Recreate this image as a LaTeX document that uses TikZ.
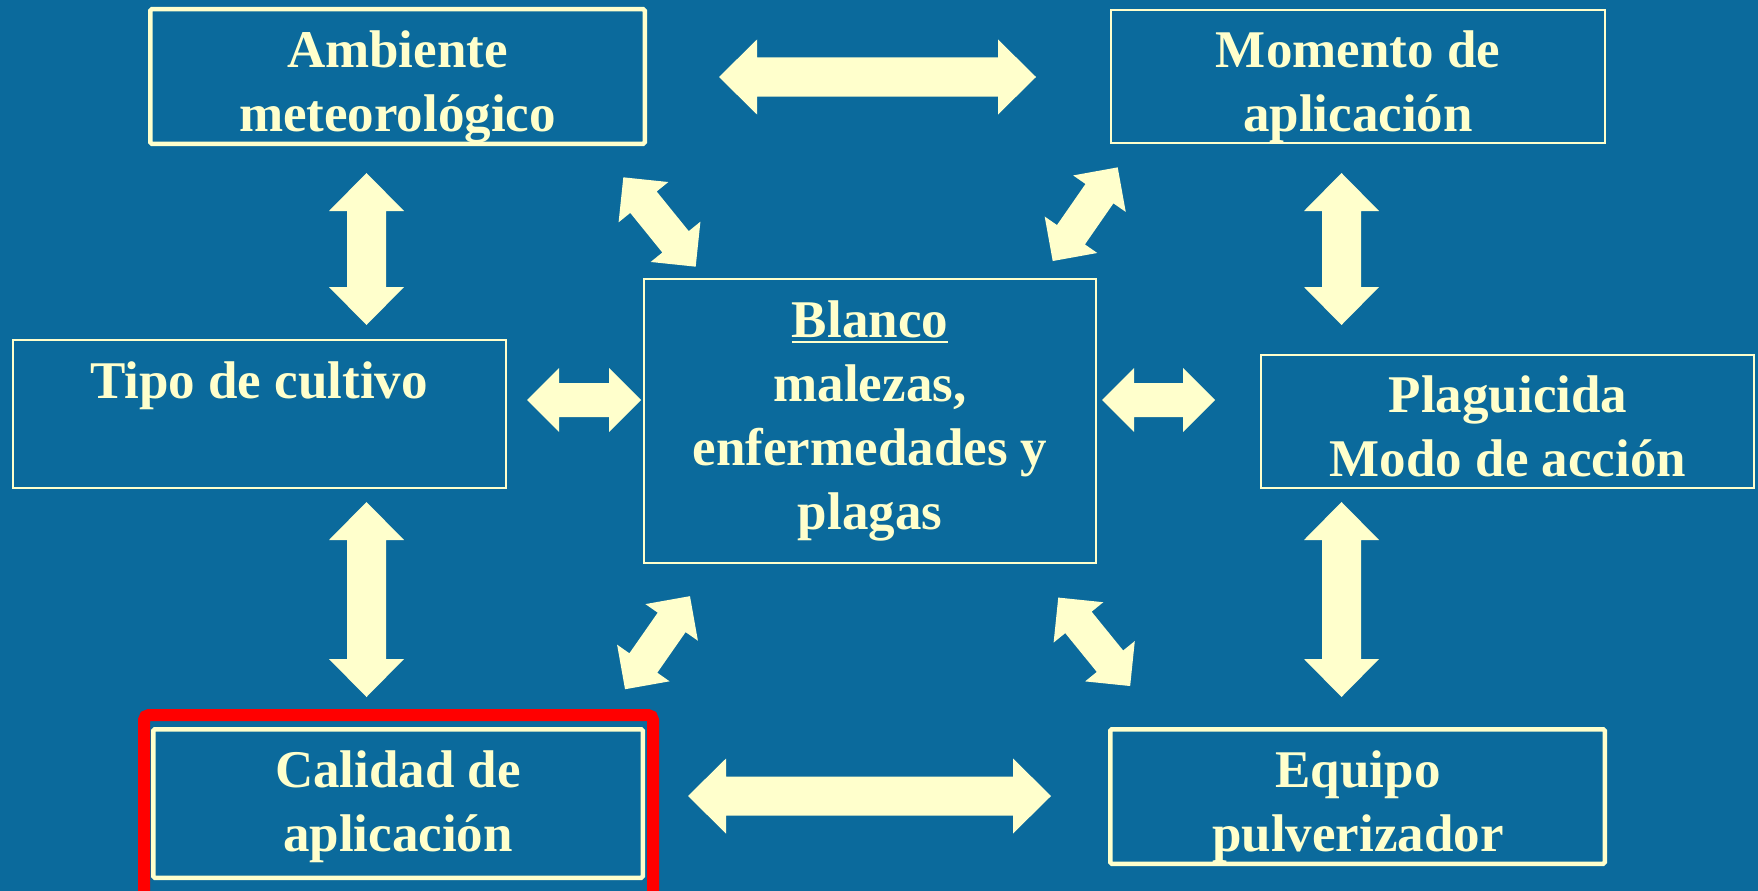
\documentclass[tikz,border=0pt]{standalone}
\usepackage{fontspec}
\setmainfont{Liberation Serif}
\definecolor{bg}{HTML}{0B6A9C}
\definecolor{cream}{HTML}{FFFFCC}
\newcommand{\blockarrow}[7]{%
  \begin{scope}[shift={(#1,#2)},rotate=#3]
    \fill[cream] ({-#4/2},0) -- ({-#4/2+#5},{-#6}) -- ({-#4/2+#5},{-#7})
      -- ({#4/2-#5},{-#7}) -- ({#4/2-#5},{-#6}) -- ({#4/2},0)
      -- ({#4/2-#5},{#6}) -- ({#4/2-#5},{#7}) -- ({-#4/2+#5},{#7})
      -- ({-#4/2+#5},{#6}) -- cycle;
  \end{scope}}
\newcommand{\bigarrow}[4]{\blockarrow{#1}{#2}{#3}{#4}{38}{37.5}{19.5}}
\newcommand{\smallarrow}[4]{\blockarrow{#1}{#2}{#3}{#4}{32}{32}{17}}
\begin{document}
\begin{tikzpicture}[x=1pt,y=-1pt,
  box/.style={draw=cream, line width=2pt, inner sep=0pt, minimum width=494pt, minimum height=133pt},
  thickbox/.style={box, line width=4.5pt, rounded corners=1.5pt},
  txt/.style={anchor=base, inner sep=0pt, text=cream, font=\fontsize{53}{64}\selectfont\bfseries}]
\clip (0,0) rectangle (1758,891);
\fill[bg] (0,0) rectangle (1758,891);
% highlight
\node[draw=red, line width=12pt, rounded corners=5pt, inner sep=0pt,
      minimum width=509pt, minimum height=190pt] (highlight) at (398.5,810) {};
% boxes
\node[thickbox, minimum width=494.5pt, minimum height=134.5pt] (ambiente) at (397.5,76.5) {};
\node[box] (momento) at (1358,76.5) {};
\node[box, minimum width=493pt, minimum height=148pt] (tipo) at (259.5,414) {};
\node[box, minimum width=452pt, minimum height=284pt] (blanco) at (870,421) {};
\node[box, minimum width=493pt, minimum height=133pt] (plaguicida) at (1507.5,421.5) {};
\node[thickbox, minimum width=489.5pt, minimum height=148.5pt] (calidad) at (398,803.5) {};
\node[thickbox, minimum width=494.5pt, minimum height=134.5pt] (equipo) at (1357.5,796.5) {};
% texts
\node[txt] (tambiente) at (397.5,67) {\begin{tabular}[t]{@{}c@{}}Ambiente\\meteorológico\end{tabular}};
\node[txt] (tmomento) at (1358,67) {\begin{tabular}[t]{@{}c@{}}Momento de\\aplicación\end{tabular}};
\node[txt] (ttipo) at (259,398) {Tipo de cultivo};
\node[txt] (tblanco) at (870,337) {\begin{tabular}[t]{@{}c@{}}\setbox0\hbox{Blanco}\rlap{\rule[-6pt]{\wd0}{2.5pt}}\box0\\malezas,\\enfermedades y\\plagas\end{tabular}};
\node[txt] (tplaguicida) at (1508,412) {\begin{tabular}[t]{@{}c@{}}Plaguicida\\Modo de acción\end{tabular}};
\node[txt] (tcalidad) at (398,787) {\begin{tabular}[t]{@{}c@{}}Calidad de\\aplicación\end{tabular}};
\node[txt] (tequipo) at (1358,787) {\begin{tabular}[t]{@{}c@{}}Equipo\\pulverizador\end{tabular}};
% arrows
\bigarrow{877.5}{77}{0}{317}
\bigarrow{869.5}{796}{0}{363}
\bigarrow{366.5}{249}{90}{152}
\bigarrow{366.5}{599.5}{90}{195}
\bigarrow{1341.5}{249}{90}{152}
\bigarrow{1341.5}{599.5}{90}{195}
\smallarrow{584}{400}{0}{114}
\smallarrow{1158.5}{400}{0}{113}
\smallarrow{659.5}{222}{-51}{115}
\smallarrow{1085.2}{214.2}{55.25}{114}
\smallarrow{657.5}{642.7}{55.1}{113.5}
\smallarrow{1094.2}{641.8}{-50.9}{114}
\end{tikzpicture}
\end{document}
